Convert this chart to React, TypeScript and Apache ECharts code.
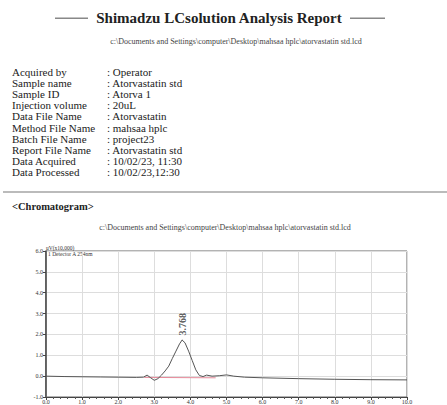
import React, { useEffect, useRef } from "react";
import * as echarts from "echarts";

const reportTitle = "Shimadzu LCsolution Analysis Report";
const filePath = "c:\\Documents and Settings\\computer\\Desktop\\mahsaa hplc\\atorvastatin std.lcd";
const infoLabels = [
  "Acquired by",
  "Sample name",
  "Sample ID",
  "Injection volume",
  "Data File Name",
  "Method File Name",
  "Batch File Name",
  "Report File Name",
  "Data Acquired",
  "Data Processed",
];
const infoValues = [
  ": Operator",
  ": Atorvastatin std",
  ": Atorva 1",
  ": 20uL",
  ": Atorvastatin",
  ": mahsaa hplc",
  ": project23",
  ": Atorvastatin std",
  ": 10/02/23, 11:30",
  ": 10/02/23,12:30",
];
const sectionTitle = "<Chromatogram>";
const yUnitLabel = "uV(x10,000)";
const detectorLabel = "1 Detector A 254nm";

// retention time (min) and detector signal
const times = [0, 0.5, 1.0, 1.5, 2.0, 2.5, 2.7, 2.8, 2.9, 3.0, 3.1, 3.2, 3.3, 3.4, 3.5, 3.6, 3.7, 3.77, 3.85, 3.95, 4.05, 4.15, 4.25, 4.35, 4.45, 4.6, 4.8, 5.0, 5.2, 5.5, 6.0, 7.0, 8.0, 9.0, 10.0];
const signal = [0.0, -0.02, -0.03, -0.04, -0.05, -0.06, -0.05, 0.05, -0.08, -0.2, -0.12, 0.05, 0.25, 0.48, 0.85, 1.2, 1.55, 1.73, 1.6, 1.2, 0.75, 0.3, 0.03, -0.02, 0.05, 0.0, 0.02, 0.06, 0.0, -0.05, -0.08, -0.12, -0.15, -0.17, -0.18];
const peakTimes = [3.77];
const peakValues = [1.73];
const peakLabels = ["3.768"];
const baselineTimes = [2.72, 4.7];
const baselineValues = [-0.06, -0.08];

const serif = "'Liberation Serif', 'Times New Roman', serif";

export default function App() {
  const ref = useRef<HTMLDivElement>(null);
  useEffect(() => {
    if (!ref.current) return;
    const chart = echarts.init(ref.current, undefined, { renderer: "svg" });
    const graphic: any[] = [
      { type: "rect", shape: { x: 55, y: 17.5, width: 33, height: 1.5 }, style: { fill: "#888" } },
      { type: "rect", shape: { x: 350, y: 17.5, width: 35, height: 1.5 }, style: { fill: "#888" } },
      {
        type: "text",
        x: 219,
        y: 18,
        style: { text: reportTitle, font: `bold 15px ${serif}`, fill: "#222", align: "center", verticalAlign: "middle" },
      },
      {
        type: "text",
        x: 236,
        y: 41,
        style: { text: filePath, font: `8px ${serif}`, fill: "#444", align: "center", verticalAlign: "middle" },
      },
      {
        type: "rect",
        shape: { x: 3, y: 191, width: 444, height: 2 },
        style: { fill: "#bbb" },
      },
      {
        type: "text",
        x: 12,
        y: 206,
        style: { text: sectionTitle, font: `bold 10.5px ${serif}`, fill: "#222", align: "left", verticalAlign: "middle" },
      },
      {
        type: "text",
        x: 225,
        y: 227,
        style: { text: filePath, font: `8px ${serif}`, fill: "#444", align: "center", verticalAlign: "middle" },
      },
      {
        type: "text",
        x: 46,
        y: 248,
        style: { text: yUnitLabel, font: `5.5px ${serif}`, fill: "#333", align: "left", verticalAlign: "middle" },
      },
      {
        type: "text",
        x: 48,
        y: 254,
        style: { text: detectorLabel, font: `5.5px ${serif}`, fill: "#333", align: "left", verticalAlign: "middle" },
      },
    ];
    infoLabels.forEach((lab, i) => {
      const y = 72 + i * 11.1;
      graphic.push({
        type: "text",
        x: 12,
        y,
        style: { text: lab, font: `11px ${serif}`, fill: "#222", align: "left", verticalAlign: "middle" },
      });
      graphic.push({
        type: "text",
        x: 107,
        y,
        style: { text: infoValues[i], font: `11px ${serif}`, fill: "#222", align: "left", verticalAlign: "middle" },
      });
    });
    chart.setOption({
      animation: false,
      backgroundColor: "#fff",
      grid: {
        left: 46,
        top: 251,
        right: 40,
        bottom: 8,
        show: true,
        borderColor: "#666",
        borderWidth: 1,
        backgroundColor: "transparent",
      },
      xAxis: {
        type: "value",
        min: 0,
        max: 10,
        interval: 1,
        axisLine: { show: true, onZero: false, lineStyle: { color: "#444" } },
        axisTick: { show: true, length: 3, lineStyle: { color: "#444" } },
        minorTick: { show: true, splitNumber: 5, length: 2, lineStyle: { color: "#555" } },
        axisLabel: { fontSize: 6, color: "#333", margin: 2, fontFamily: serif, formatter: (v: number) => v.toFixed(1) },
        splitLine: { show: true, lineStyle: { color: "#ddd", width: 1 } },
      },
      yAxis: {
        type: "value",
        min: -1,
        max: 6,
        interval: 1,
        axisLine: { show: true, onZero: false, lineStyle: { color: "#444", width: 1.5 } },
        axisTick: { show: true, length: 3, lineStyle: { color: "#444" } },
        axisLabel: { fontSize: 6, color: "#333", margin: 3, fontFamily: serif, formatter: (v: number) => v.toFixed(1) },
        splitLine: { show: true, lineStyle: { color: "#ddd", width: 1 } },
      },
      series: [
        {
          type: "line",
          data: times.map((t, i) => [t, signal[i]]),
          showSymbol: false,
          symbol: "none",
          lineStyle: { color: "#555", width: 1 },
          z: 3,
        },
        {
          type: "line",
          data: baselineTimes.map((t, i) => [t, baselineValues[i]]),
          symbol: "none",
          lineStyle: { color: "#e68a9a", width: 1 },
          z: 2,
        },
        {
          type: "scatter",
          data: peakTimes.map((t, i) => ({ value: [t, peakValues[i]], name: peakLabels[i] })),
          symbolSize: 1,
          itemStyle: { color: "#555" },
          z: 4,
          label: {
            show: true,
            position: "top",
            distance: 4,
            rotate: 90,
            align: "left",
            verticalAlign: "middle",
            formatter: (p: any) => p.name,
            fontSize: 10,
            fontWeight: "bold",
            color: "#333",
            fontFamily: serif,
          },
        },
      ],
      graphic,
    });
    return () => chart.dispose();
  }, []);
  return (
    <div
      ref={ref}
      style={{ position: "fixed", left: 0, top: 0, width: 447, height: 405, background: "#fff" }}
    />
  );
}
